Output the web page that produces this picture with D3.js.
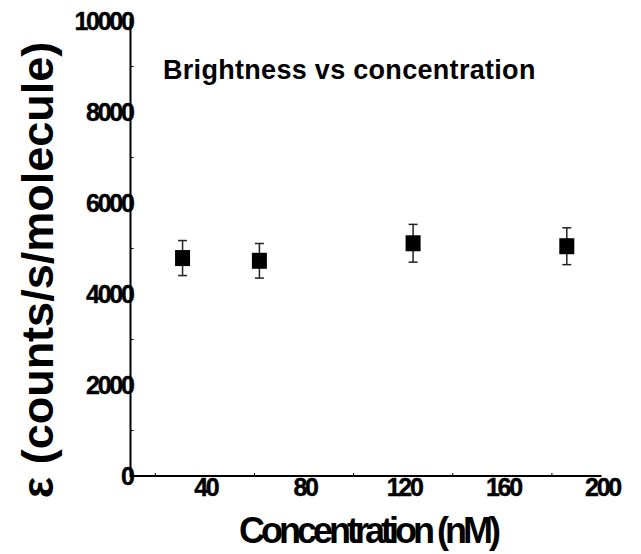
<!DOCTYPE html>
<html>
<head>
<meta charset="utf-8">
<script src="https://cdn.jsdelivr.net/npm/d3@7/dist/d3.min.js"></script>
<style>
  html, body { margin: 0; padding: 0; background: #fff; }
  svg { display: block; }
  text { font-family: "Liberation Sans", Arial, Helvetica, sans-serif; font-weight: bold; fill: #000; }
</style>
</head>
<body>
<svg id="chart" width="641" height="554"></svg>
<script>
// ---- Data ----
const concentrations = [31, 62, 124, 186];          // nM
const brightness     = [4790, 4730, 5115, 5050];    // counts/s/molecule
const brightnessErr  = [385, 380, 415, 405];
const xTickValues    = [40, 80, 120, 160, 200];
const xMinorTicks    = [20, 60, 100, 140, 180];
const yTickValues    = [0, 2000, 4000, 6000, 8000, 10000];
const yMinorTicks    = [1000, 3000, 5000, 7000, 9000];
const chartTitle     = "Brightness vs concentration";
const xAxisTitle     = "Concentration (nM)";
const yAxisTitle     = "ε (counts/s/molecule)";

// ---- Layout ----
const svg = d3.select("#chart");
const x = d3.scaleLinear().domain([10, 200]).range([130.5, 601.5]);
const y = d3.scaleLinear().domain([0, 10000]).range([476, 21]);

// Axis lines
svg.append("line")
  .attr("x1", x(10)).attr("x2", x(200))
  .attr("y1", y(0)).attr("y2", y(0))
  .attr("stroke", "#000").attr("stroke-width", 2);
svg.append("line")
  .attr("x1", x(10)).attr("x2", x(10))
  .attr("y1", y(0) + 1).attr("y2", y(10000) - 3)
  .attr("stroke", "#000").attr("stroke-width", 2);

// Minor ticks (inside)
svg.selectAll(".xminor").data(xMinorTicks).enter().append("line")
  .attr("x1", d => x(d)).attr("x2", d => x(d))
  .attr("y1", y(0)).attr("y2", y(0) - 3)
  .attr("stroke", "#000").attr("stroke-width", 1);
svg.selectAll(".yminor").data(yMinorTicks).enter().append("line")
  .attr("x1", x(10)).attr("x2", x(10) + 3)
  .attr("y1", d => y(d)).attr("y2", d => y(d))
  .attr("stroke", "#000").attr("stroke-width", 1);

// Tick labels
svg.selectAll(".xlab").data(xTickValues).enter().append("text")
  .attr("x", d => x(d) + 1)
  .attr("y", y(0) + 20)
  .attr("text-anchor", "middle")
  .style("font-size", "25px")
  .style("letter-spacing", "-2.3px")
  .style("stroke", "#000").style("stroke-width", "0.4px")
  .text(d => d);
svg.selectAll(".ylab").data(yTickValues).enter().append("text")
  .attr("x", x(10) + 2)
  .attr("y", d => y(d))
  .attr("dy", "0.36em")
  .attr("text-anchor", "end")
  .style("font-size", "25px")
  .style("letter-spacing", "-2.3px")
  .style("stroke", "#000").style("stroke-width", "0.4px")
  .text(d => d);

// Error bars
const pts = concentrations.map((c, i) => ({ c, v: brightness[i], e: brightnessErr[i] }));
const g = svg.append("g");
g.selectAll(".ebar").data(pts).enter().append("line")
  .attr("x1", d => x(d.c)).attr("x2", d => x(d.c))
  .attr("y1", d => y(d.v + d.e)).attr("y2", d => y(d.v - d.e))
  .attr("stroke", "#222").attr("stroke-width", 1.5);
g.selectAll(".capT").data(pts).enter().append("line")
  .attr("x1", d => x(d.c) - 4.5).attr("x2", d => x(d.c) + 4.5)
  .attr("y1", d => y(d.v + d.e)).attr("y2", d => y(d.v + d.e))
  .attr("stroke", "#222").attr("stroke-width", 1.5);
g.selectAll(".capB").data(pts).enter().append("line")
  .attr("x1", d => x(d.c) - 4.5).attr("x2", d => x(d.c) + 4.5)
  .attr("y1", d => y(d.v - d.e)).attr("y2", d => y(d.v - d.e))
  .attr("stroke", "#222").attr("stroke-width", 1.5);

// Square markers
const s = 15;
g.selectAll(".pt").data(pts).enter().append("rect")
  .attr("x", d => x(d.c) - s / 2)
  .attr("y", d => y(d.v) - 8)
  .attr("width", s).attr("height", 16)
  .attr("fill", "#000");

// Titles
svg.append("text")
  .attr("x", 163).attr("y", 79)
  .style("font-size", "27px")
  .style("letter-spacing", "0.3px")
  .text(chartTitle);

svg.append("text")
  .attr("x", 368).attr("y", 543)
  .attr("text-anchor", "middle")
  .style("font-size", "36px")
  .style("letter-spacing", "-4px")
  .text(xAxisTitle);

svg.append("text")
  .attr("transform", "translate(53,270) rotate(-90)")
  .attr("text-anchor", "middle")
  .style("font-size", "45px")
  .text(yAxisTitle);
</script>
</body>
</html>
